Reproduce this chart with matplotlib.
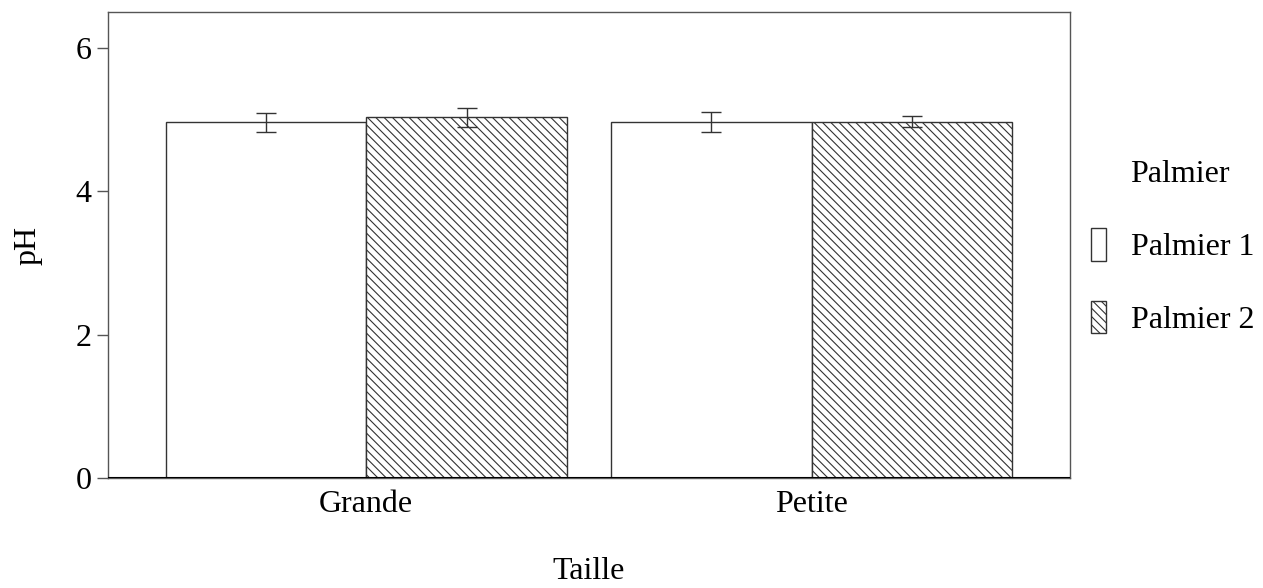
import matplotlib
matplotlib.use("Agg")
import matplotlib.pyplot as plt
import numpy as np

plt.rcParams["font.family"] = ["Liberation Serif", "DejaVu Serif"]
plt.rcParams["hatch.linewidth"] = 0.8
plt.rcParams["hatch.color"] = "#333333"

tailles = ["Grande", "Petite"]
palmiers = ["Palmier 1", "Palmier 2"]
ph_p1 = [4.96, 4.97]
ph_p2 = [5.03, 4.97]
err_p1 = [0.13, 0.137]
err_p2 = [0.135, 0.08]

fs = 23
fig = plt.figure(figsize=(12.63, 5.88), dpi=100)
ax = fig.add_axes([0.0855, 0.1871, 0.7617, 0.7925])

x = np.arange(1, len(tailles) + 1)
w = 0.45
ax.bar(x - w / 2, ph_p1, w, color="white", edgecolor="#333333", linewidth=1.0,
       label=palmiers[0], zorder=2)
ax.bar(x + w / 2, ph_p2, w, color="white", edgecolor="#333333", linewidth=1.0,
       hatch="\\\\\\\\", label=palmiers[1], zorder=2)
ax.errorbar(x - w / 2, ph_p1, yerr=err_p1, fmt="none", ecolor="#333333",
            elinewidth=1.0, capsize=7, capthick=1.0, zorder=3)
ax.errorbar(x + w / 2, ph_p2, yerr=err_p2, fmt="none", ecolor="#333333",
            elinewidth=1.0, capsize=7, capthick=1.0, zorder=3)
ax.axhline(0, color="black", linewidth=1.5, zorder=4)

ax.set_xlim(0.42, 2.58)
ax.set_ylim(0, 6.5)
ax.set_xticks(x)
ax.set_xticklabels(tailles)
ax.set_yticks([0, 2, 4, 6])
ax.tick_params(axis="x", length=0, labelsize=fs, pad=9)
ax.tick_params(axis="y", length=8, width=1.0, color="#555555", labelsize=fs, pad=4)
for s in ax.spines.values():
    s.set_color("#555555")
    s.set_linewidth(1.0)

ax.set_xlabel("Taille", fontsize=fs, labelpad=27)
ax.set_ylabel("pH", fontsize=fs, labelpad=24)

leg = ax.legend(loc="center left", bbox_to_anchor=(1091 / 1263, 1 - 281.5 / 588),
                bbox_transform=fig.transFigure, frameon=False, fontsize=fs,
                handlelength=0.47, handleheight=1.2, handletextpad=0.78,
                labelspacing=1.2, borderpad=0, borderaxespad=0)
fig.text(1130 / 1263, 1 - 174 / 588, "Palmier", fontsize=fs, ha="left", va="center")

fig.savefig("out.png", dpi=100)
